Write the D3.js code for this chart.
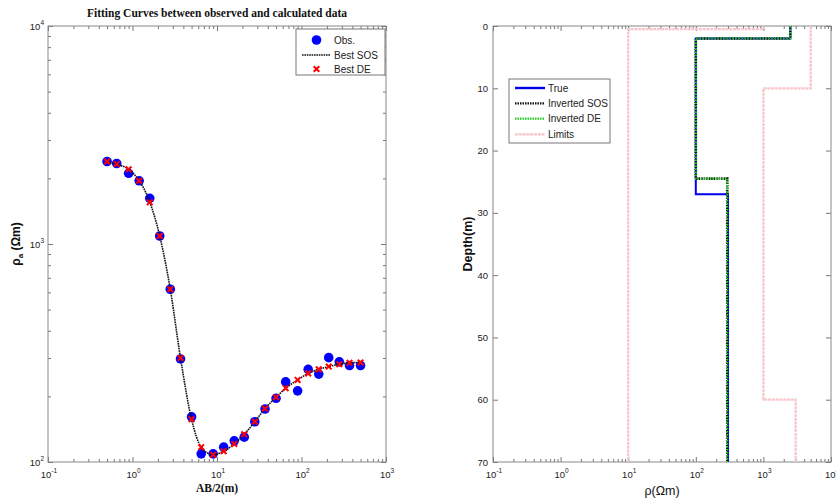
<!DOCTYPE html>
<html>
<head>
<meta charset="utf-8">
<script src="https://cdn.jsdelivr.net/npm/d3@7"></script>
<style>
  body { margin: 0; background: #fff; }
  text { font-family: "Liberation Sans", Arial, sans-serif; fill: #222; }
</style>
</head>
<body>
<div id="vis"></div>
<script>
// ---- left panel data: apparent resistivity sounding ----
const abHalf = [0.5, 0.65, 0.9, 1.2, 1.6, 2.1, 2.8, 3.7, 5, 6.5, 9, 12, 16, 21, 28, 37, 50, 65, 90, 120, 160, 210, 280, 370, 500];
const obsRho = [2390, 2340, 2110, 1950, 1620, 1088, 620, 297, 161, 109, 109, 117, 125, 130, 153, 175, 196, 233, 212, 266, 253, 301, 288, 277, 277];
const sosRho = [2390, 2320, 2200, 1950, 1560, 1088, 620, 300, 157, 117, 108, 112, 121, 134, 153, 176, 198, 218, 238, 255, 266, 274, 281, 285, 286];
const deRho  = [2390, 2330, 2200, 1950, 1553, 1088, 620, 300, 157, 117, 108, 112, 121, 134, 153, 176, 198, 218, 238, 255, 266, 274, 281, 285, 286];

// ---- right panel data: layered models (rho, depth of top of each step) ----
const trueRho   = [2500, 100, 300];
const trueDepth = [0, 2, 27, 70];
const sosModelRho   = [2500, 100, 292];
const sosModelDepth = [0, 2, 24.5, 70];
const deModelRho    = [2500, 100, 292];
const deModelDepth  = [0, 2, 24.5, 70];
const lowRho   = [1000, 10];
const lowDepth = [0, 0.5, 70];
const upRho    = [5000, 1000, 3000];
const upDepth  = [0, 10, 60, 70];

const W = 836, H = 502;
const svg = d3.select("#vis").append("svg").attr("width", W).attr("height", H);

const L = { x0: 48, x1: 386, y0: 26, y1: 462 };
const R = { x0: 493, x1: 831, y0: 26, y1: 462 };

const xL = d3.scaleLog().domain([0.1, 1000]).range([L.x0, L.x1]);
const yL = d3.scaleLog().domain([100, 10000]).range([L.y1, L.y0]);
const xR = d3.scaleLog().domain([0.1, 10000]).range([R.x0, R.x1]);
const yR = d3.scaleLinear().domain([0, 70]).range([R.y0, R.y1]);

function logTicks(lo, hi) {
    const major = [], minor = [];
    for (let e = Math.log10(lo); e <= Math.log10(hi); e++) {
        major.push(Math.pow(10, e));
        if (e < Math.log10(hi)) for (let k = 2; k < 10; k++) minor.push(k * Math.pow(10, e));
    }
    return { major, minor };
}

function drawAxis(g, axisFn, scale, values, size, transform) {
    g.append("g")
        .attr("transform", transform)
        .call(axisFn(scale).tickValues(values).tickSize(size).tickFormat(""))
        .call(a => a.select(".domain").remove())
        .call(a => a.selectAll("line").attr("stroke", "#777"));
}

function powLabel(g, x, y, exp, anchor) {
    const t = g.append("text").attr("x", x).attr("y", y)
        .attr("text-anchor", anchor).style("font-size", "9.5px");
    t.append("tspan").text("10");
    t.append("tspan").attr("dy", -5).style("font-size", "6.5px").text(exp);
}

// ================= LEFT PANEL =================
const gl = svg.append("g");
const lx = logTicks(0.1, 1000), ly = logTicks(100, 10000);
drawAxis(gl, d3.axisTop, xL, lx.major, 5, `translate(0,${L.y1})`);
drawAxis(gl, d3.axisTop, xL, lx.minor, 3, `translate(0,${L.y1})`);
drawAxis(gl, d3.axisBottom, xL, lx.major, 5, `translate(0,${L.y0})`);
drawAxis(gl, d3.axisBottom, xL, lx.minor, 3, `translate(0,${L.y0})`);
drawAxis(gl, d3.axisRight, yL, ly.major, 5, `translate(${L.x0},0)`);
drawAxis(gl, d3.axisRight, yL, ly.minor, 3, `translate(${L.x0},0)`);
drawAxis(gl, d3.axisLeft, yL, ly.major, 5, `translate(${L.x1},0)`);
drawAxis(gl, d3.axisLeft, yL, ly.minor, 3, `translate(${L.x1},0)`);
gl.append("rect").attr("x", L.x0).attr("y", L.y0)
    .attr("width", L.x1 - L.x0).attr("height", L.y1 - L.y0)
    .attr("fill", "none").attr("stroke", "#888").attr("stroke-width", 1);

lx.major.forEach(v => powLabel(gl, xL(v) + 1, 478, Math.round(Math.log10(v)), "middle"));
ly.major.forEach(v => powLabel(gl, L.x0 - 4, yL(v) + 4, Math.round(Math.log10(v)), "end"));

// observed dots
gl.append("g").selectAll("circle").data(abHalf).join("circle")
    .attr("cx", d => xL(d))
    .attr("cy", (d, i) => yL(obsRho[i]))
    .attr("r", 4.8)
    .attr("fill", "#0000ff");

// best SOS curve
const curve = d3.line().x(d => xL(d[0])).y(d => yL(d[1])).curve(d3.curveMonotoneX);
gl.append("path")
    .datum(abHalf.map((d, i) => [d, sosRho[i]]))
    .attr("d", curve)
    .attr("fill", "none").attr("stroke", "#111")
    .attr("stroke-width", 1.6).attr("stroke-dasharray", "1.6,0.8");

// best DE crosses
function cross(g, x, y, s) {
    g.append("path")
        .attr("d", `M${x - s},${y - s}L${x + s},${y + s}M${x - s},${y + s}L${x + s},${y - s}`)
        .attr("stroke", "#ff0000").attr("stroke-width", 2).attr("fill", "none");
}
const deG = gl.append("g");
abHalf.forEach((d, i) => cross(deG, xL(d), yL(deRho[i]), 2.8));

// title and labels
gl.append("text").attr("x", (L.x0 + L.x1) / 2).attr("y", 17)
    .attr("text-anchor", "middle")
    .style("font-family", "'Liberation Serif', 'Times New Roman', serif")
    .style("font-weight", "bold").style("font-size", "11.5px").style("fill", "#111")
    .text("Fitting Curves between observed and calculated data");
gl.append("text").attr("x", (L.x0 + L.x1) / 2).attr("y", 492)
    .attr("text-anchor", "middle")
    .style("font-family", "'Liberation Serif', 'Times New Roman', serif")
    .style("font-weight", "bold").style("font-size", "11.5px").style("fill", "#111")
    .text("AB/2(m)");
const yLab = gl.append("text")
    .attr("transform", `translate(20,${(L.y0 + L.y1) / 2}) rotate(-90)`)
    .attr("text-anchor", "middle")
    .style("font-weight", "bold").style("font-size", "12px").style("fill", "#111");
yLab.append("tspan").text("ρ");
yLab.append("tspan").attr("dy", 3).style("font-size", "8px").text("a");
yLab.append("tspan").attr("dy", -3).text(" (Ωm)");

// legend left
const lg = gl.append("g");
lg.append("rect").attr("x", 296).attr("y", 29).attr("width", 89).attr("height", 46)
    .attr("fill", "#fff").attr("stroke", "#777").attr("stroke-width", 1);
lg.append("circle").attr("cx", 316.5).attr("cy", 40).attr("r", 4.8).attr("fill", "#0000ff");
lg.append("line").attr("x1", 302).attr("x2", 330).attr("y1", 55).attr("y2", 55)
    .attr("stroke", "#111").attr("stroke-width", 1.6).attr("stroke-dasharray", "1.6,0.8");
cross(lg, 316.5, 69, 2.8);
[["Obs.", 40], ["Best SOS", 55], ["Best DE", 69]].forEach(([t, y]) => {
    lg.append("text").attr("x", 334).attr("y", y + 3.5).style("font-size", "10px").text(t);
});

// ================= RIGHT PANEL =================
const gr = svg.append("g");
const rx = logTicks(0.1, 10000);
const depthTicks = d3.range(0, 71, 10);
drawAxis(gr, d3.axisTop, xR, rx.major, 5, `translate(0,${R.y1})`);
drawAxis(gr, d3.axisTop, xR, rx.minor, 3, `translate(0,${R.y1})`);
drawAxis(gr, d3.axisBottom, xR, rx.major, 5, `translate(0,${R.y0})`);
drawAxis(gr, d3.axisBottom, xR, rx.minor, 3, `translate(0,${R.y0})`);
drawAxis(gr, d3.axisRight, yR, depthTicks, 5, `translate(${R.x0},0)`);
drawAxis(gr, d3.axisLeft, yR, depthTicks, 5, `translate(${R.x1},0)`);
gr.append("rect").attr("x", R.x0).attr("y", R.y0)
    .attr("width", R.x1 - R.x0).attr("height", R.y1 - R.y0)
    .attr("fill", "none").attr("stroke", "#888").attr("stroke-width", 1);

rx.major.forEach(v => powLabel(gr, xR(v) + 1, 478, Math.round(Math.log10(v)), "middle"));
depthTicks.forEach(v => {
    gr.append("text").attr("x", R.x0 - 5).attr("y", yR(v) + 3.5)
        .attr("text-anchor", "end").style("font-size", "9.5px").text(v);
});

function steps(rho, depth) {
    const pts = [];
    rho.forEach((r, i) => { pts.push([r, depth[i]]); pts.push([r, depth[i + 1]]); });
    return pts;
}
const pink = "#f7c4ca";
const stepLine = d3.line().x(d => xR(d[0])).y(d => yR(d[1]));
const series = [
    { rho: lowRho, depth: lowDepth, color: pink, w: 2.2, dash: "3,0.8" },
    { rho: upRho, depth: upDepth, color: pink, w: 2.2, dash: "3,0.8" },
    { rho: trueRho, depth: trueDepth, color: "#0000ee", w: 2, dash: null },
    { rho: sosModelRho, depth: sosModelDepth, color: "#111", w: 2.6, dash: "1.5,1" },
    { rho: deModelRho, depth: deModelDepth, color: "#22cc22", w: 2.2, dash: "1.5,1.5" }
];
series.forEach(s => {
    gr.append("path").datum(steps(s.rho, s.depth))
        .attr("d", stepLine)
        .attr("fill", "none").attr("stroke", s.color)
        .attr("stroke-width", s.w)
        .attr("stroke-dasharray", s.dash);
});

gr.append("text").attr("x", (R.x0 + R.x1) / 2).attr("y", 495)
    .attr("text-anchor", "middle").style("font-size", "12.5px").style("fill", "#111")
    .text("ρ(Ωm)");
gr.append("text")
    .attr("transform", `translate(472,${(R.y0 + R.y1) / 2}) rotate(-90)`)
    .attr("text-anchor", "middle")
    .style("font-weight", "bold").style("font-size", "12.5px").style("fill", "#111")
    .text("Depth(m)");

// legend right
const rg = gr.append("g");
rg.append("rect").attr("x", 509).attr("y", 79).attr("width", 101).attr("height", 64)
    .attr("fill", "#fff").attr("stroke", "#777").attr("stroke-width", 1);
const rItems = [
    { t: "True", y: 88, color: "#0000ee", w: 2.4, dash: null },
    { t: "Inverted SOS", y: 103.3, color: "#111", w: 2.2, dash: "1.5,1" },
    { t: "Inverted DE", y: 118.7, color: "#22cc22", w: 2.2, dash: "1.5,1" },
    { t: "Limits", y: 134.3, color: pink, w: 2.2, dash: "3,0.8" }
];
rItems.forEach(d => {
    rg.append("line").attr("x1", 515).attr("x2", 545).attr("y1", d.y).attr("y2", d.y)
        .attr("stroke", d.color).attr("stroke-width", d.w).attr("stroke-dasharray", d.dash);
    rg.append("text").attr("x", 548).attr("y", d.y + 3.5).style("font-size", "10px").text(d.t);
});
</script>
</body>
</html>
